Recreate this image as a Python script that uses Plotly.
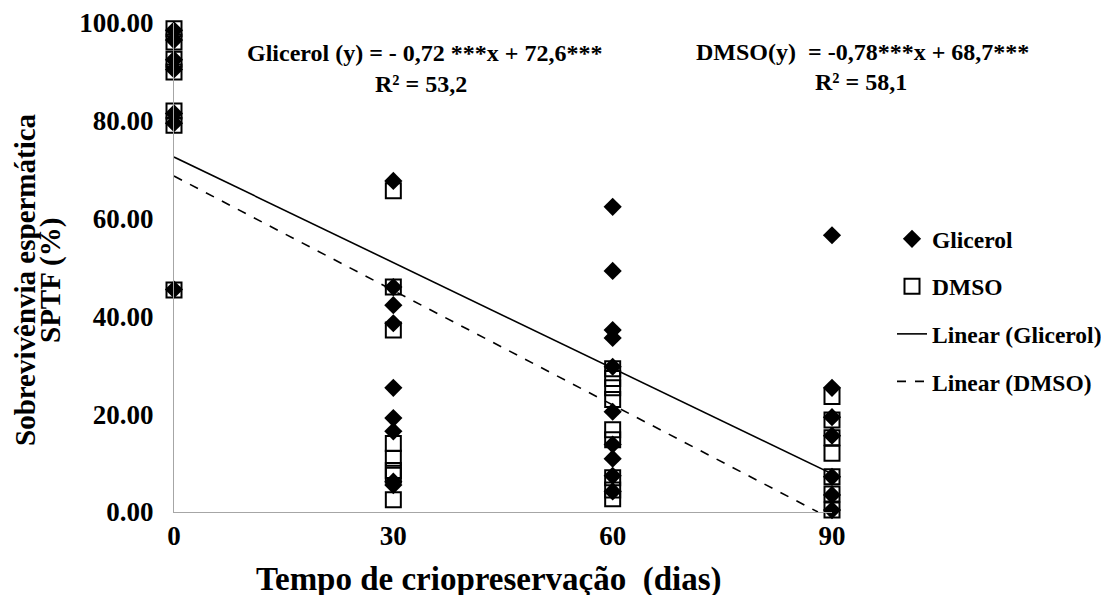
import plotly.graph_objects as go

# ---- data ----
days_glicerol = [0]*7 + [30]*9 + [60]*10 + [90]*7
glicerol = [98.5, 96.5, 92.5, 90.5, 81.5, 79.5, 45.5,
            67.7, 46.0, 42.3, 38.6, 25.4, 19.2, 16.5, 6.2, 5.5,
            62.4, 49.3, 37.2, 35.6, 29.7, 20.5, 13.8, 10.9, 7.4, 4.2,
            56.6, 25.4, 19.4, 15.6, 7.2, 3.5, 0.4]

days_dmso = [0]*7 + [30]*8 + [60]*9 + [90]*7
dmso = [98.8, 96.1, 92.6, 90.0, 82.0, 79.1, 45.4,
        65.7, 46.0, 37.2, 14.0, 11.0, 8.5, 7.5, 2.5,
        29.3, 27.3, 25.4, 23.0, 16.8, 14.8, 7.0, 4.5, 2.7,
        23.6, 18.8, 15.2, 12.0, 7.2, 3.7, 0.4]

# regression coefficients shown on the chart: [slope, intercept]
coef_glicerol = [-0.72, 72.6]
coef_dmso = [-0.78, 68.7]

x_ticks = [0, 30, 60, 90]
y_ticks = [0, 20, 40, 60, 80, 100]

# ---- layout helpers (page pixel coordinates; the page body has an 8px margin) ----
W, H = 1109, 595
OFF = 8
PL, PR, PT, PB = 174, 832, 23, 512          # plot area in page pixels
L, R, T, B = PL - OFF, PR - OFF, PT - OFF, PB - OFF
FONT = "Liberation Serif"


def px(x):
    return (x - PL) / (PR - PL)


def py(y):
    return (PB - y) / (PB - PT)


# trend lines (end where the line meets y = 0 if inside the range)
def trend(coef):
    x0 = 0
    x1 = 90
    if coef[0] * x1 + coef[1] < 0:
        x1 = -coef[1] / coef[0]
    xs = [x0, x1]
    ys = [coef[0] * v + coef[1] for v in xs]
    return xs, ys


gx, gy = trend(coef_glicerol)
dx, dy = trend(coef_dmso)

fig = go.Figure()

fig.add_trace(go.Scatter(
    x=gx, y=gy, mode="lines", name="Linear (Glicerol)",
    line=dict(color="black", width=1.6), legendrank=3, legendgroup="c"))
fig.add_trace(go.Scatter(
    x=dx, y=dy, mode="lines", name="Linear (DMSO)",
    line=dict(color="black", width=1.6, dash="dash"), legendrank=4, legendgroup="d"))
fig.add_trace(go.Scatter(
    x=days_dmso, y=dmso, mode="markers", name="DMSO",
    marker=dict(symbol="square-open", size=15, color="black", line=dict(width=2)),
    cliponaxis=False, legendrank=2, legendgroup="b"))
fig.add_trace(go.Scatter(
    x=days_glicerol, y=glicerol, mode="markers", name="Glicerol",
    marker=dict(symbol="diamond", size=14, color="black"),
    cliponaxis=False, legendrank=1, legendgroup="a"))

ann_font = dict(family=FONT, size=24, color="black", weight="bold")
annotations = [
    dict(x=px(425), y=py(53), text="Glicerol (y) = - 0,72 ***x + 72,6***"),
    dict(x=px(421), y=py(84), text="R² = 53,2"),
    dict(x=px(862), y=py(52), text="DMSO(y)  = -0,78***x + 68,7***"),
    dict(x=px(861), y=py(82), text="R² = 58,1"),
]
for a in annotations:
    a.update(xref="paper", yref="paper", showarrow=False, font=ann_font,
             xanchor="center", yanchor="middle")

title_font = dict(family=FONT, size=29, color="black", weight="bold")
annotations += [
    dict(x=px(25), y=py(280), text="Sobrevivênvia espermática", textangle=-90),
    dict(x=px(50), y=py(281), text="SPTF (%)", textangle=-90),
    dict(x=px(489), y=py(579), text="Tempo de criopreservação\u00a0\u00a0(dias)",
         font=dict(family=FONT, size=33, color="black", weight="bold")),
]
for a in annotations[4:]:
    a.setdefault("font", title_font)
    a.update(xref="paper", yref="paper", showarrow=False,
             xanchor="center", yanchor="middle")

fig.update_layout(
    width=W, height=H,
    margin=dict(l=L, r=W - R, t=T, b=H - B, autoexpand=False),
    paper_bgcolor="white", plot_bgcolor="white",
    font=dict(family=FONT, color="black"),
    showlegend=True,
    legend=dict(x=px(892), y=py(217), xanchor="left", yanchor="top",
                font=dict(family=FONT, size=23.5, color="black", weight="bold"),
                tracegroupgap=14, traceorder="grouped",
                bgcolor="rgba(0,0,0,0)"),
    annotations=annotations,
    xaxis=dict(range=[0, 90], tickvals=x_ticks, ticktext=[str(v) for v in x_ticks],
               showgrid=False, zeroline=False, showline=True,
               linecolor="#a6a6a6", linewidth=1, ticks="",
               tickfont=dict(family=FONT, size=27, color="black", weight="bold")),
    yaxis=dict(range=[0, 100], tickvals=y_ticks, tickformat=".2f",
               showgrid=False, zeroline=False, showline=True,
               linecolor="#a6a6a6", linewidth=1, ticks="",
               ticklabelstandoff=14,
               tickfont=dict(family=FONT, size=27, color="black", weight="bold")),
)

fig.write_html("out.html")
